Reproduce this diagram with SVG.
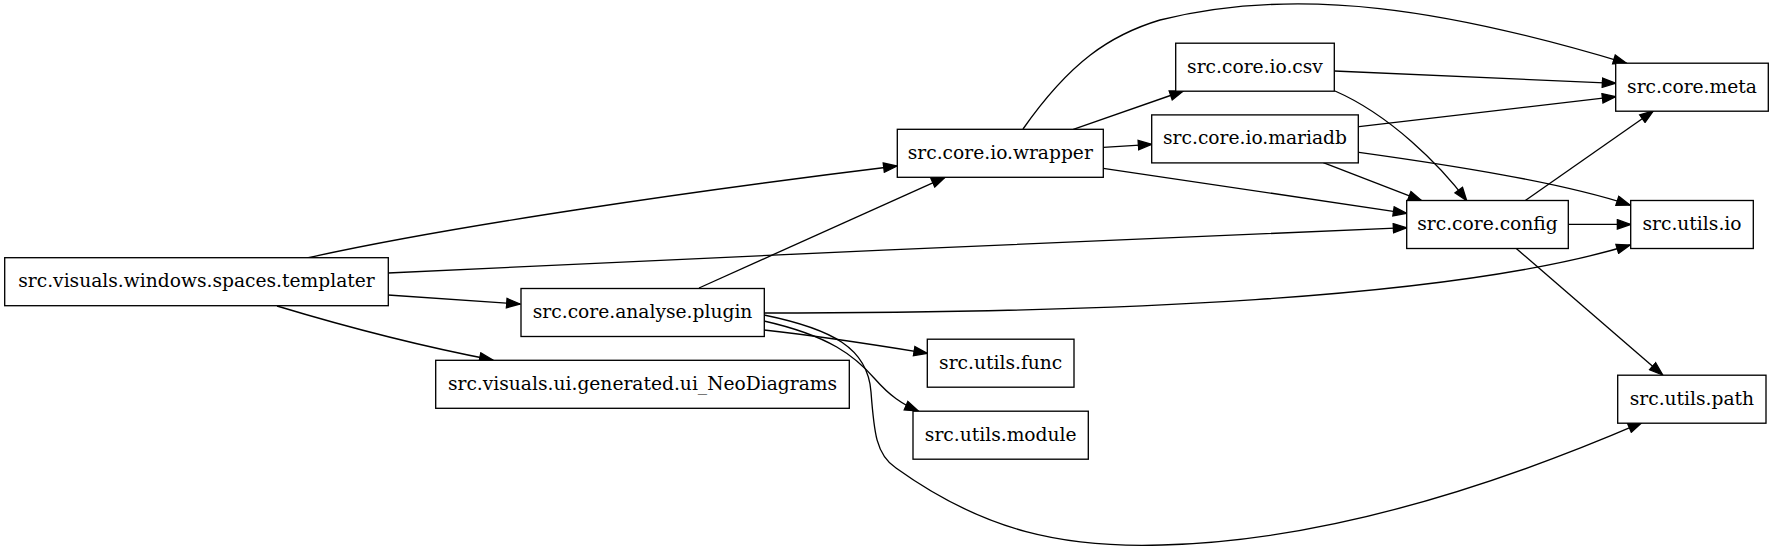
<svg xmlns="http://www.w3.org/2000/svg" width="1773" height="550" viewBox="0 0 1773 550">
<style>
.node rect{fill:#fff;stroke:#000;stroke-width:1.33}
.node text{font-family:"DejaVu Serif","Liberation Serif",serif;font-size:18.67px;fill:#000;text-anchor:middle}
.edges path{fill:none;stroke:#000;stroke-width:1.33;marker-end:url(#ah)}
</style>
<defs>
<marker id="ah" viewBox="-1 -1 15.33 11.33" refX="13.33" refY="4.67" markerWidth="15.33" markerHeight="11.33" markerUnits="userSpaceOnUse" orient="auto">
<path d="M0,0 L13.33,4.67 L0,9.33 z" fill="#000" stroke="#000" stroke-width="1.33" stroke-linejoin="miter"/>
</marker>
</defs>
<rect width="1773" height="550" fill="#fff"/>
<g class="edges" id="edges">
<path id="e-templater-wrapper" d="M307,258 C450,226 700,190 897,166"/>
<path id="e-templater-config" d="M388,273 C700,258 1100,240 1406.7,227.7"/>
<path id="e-templater-plugin" d="M388,295 L520,304"/>
<path id="e-templater-neo" d="M277,306 C340,325 420,346 493,360"/>
<path id="e-plugin-wrapper" d="M699,288 L945,177.3"/>
<path id="e-plugin-io" d="M764,313 C1100,313 1450,300 1630,245"/>
<path id="e-plugin-func" d="M764,330 C820,336 870,344 927.3,353.3"/>
<path id="e-plugin-module" d="M764,321 C830,336 855,356 875,379 C890,396 902,404 918.3,411"/>
<path id="e-plugin-path" d="M764,315 C832,329 868,348 871,392 C874,432 876,455 896,468 C985,532 1065,548 1162,545 C1320,541 1490,488 1641.7,422.7"/>
<path id="e-wrapper-csv" d="M1073.3,129.3 L1183.3,91"/>
<path id="e-wrapper-mariadb" d="M1103.3,147.3 L1151.7,144.3"/>
<path id="e-wrapper-config" d="M1103.3,168.3 L1406.7,213.3"/>
<path id="e-wrapper-meta" d="M1023,129 C1070,62 1110,35 1160,20 C1300,-15 1450,10 1626.7,63.3"/>
<path id="e-csv-meta" d="M1334.3,71 L1615.7,83.3"/>
<path id="e-csv-config" d="M1335,91 C1390,115 1440,165 1466.7,200.7"/>
<path id="e-mariadb-meta" d="M1359,126.7 L1615.7,96.7"/>
<path id="e-mariadb-config" d="M1323.3,162.7 L1421.7,200.7"/>
<path id="e-mariadb-io" d="M1359,152.3 C1450,165 1560,182 1630,205"/>
<path id="e-config-meta" d="M1525,200.7 L1653.3,111"/>
<path id="e-config-io" d="M1568.3,224.4 L1630.7,224.4"/>
<path id="e-config-path" d="M1516,248.3 L1662.7,375"/>
</g>
<g class="node" id="n-templater"><rect x="4.7" y="257.7" width="383.6" height="48"/><text x="196.5" y="287">src.visuals.windows.spaces.templater</text></g>
<g class="node" id="n-plugin"><rect x="521" y="288.5" width="243.3" height="48"/><text x="642.6" y="317.8">src.core.analyse.plugin</text></g>
<g class="node" id="n-neo"><rect x="435.7" y="360.3" width="413.6" height="48"/><text x="642.5" y="389.6">src.visuals.ui.generated.ui_NeoDiagrams</text></g>
<g class="node" id="n-wrapper"><rect x="897.3" y="129.3" width="206" height="48"/><text x="1000.3" y="158.6">src.core.io.wrapper</text></g>
<g class="node" id="n-func"><rect x="927.3" y="339.2" width="146.7" height="48"/><text x="1000.7" y="368.5">src.utils.func</text></g>
<g class="node" id="n-module"><rect x="913" y="411.2" width="175.3" height="48"/><text x="1000.7" y="440.5">src.utils.module</text></g>
<g class="node" id="n-csv"><rect x="1175.7" y="43.2" width="158.6" height="48"/><text x="1255" y="72.5">src.core.io.csv</text></g>
<g class="node" id="n-mariadb"><rect x="1151.7" y="114.9" width="206.6" height="48"/><text x="1255" y="144.2">src.core.io.mariadb</text></g>
<g class="node" id="n-config"><rect x="1406.7" y="200.5" width="161.6" height="48"/><text x="1487.5" y="229.8">src.core.config</text></g>
<g class="node" id="n-meta"><rect x="1615.7" y="63.2" width="152.6" height="48"/><text x="1692" y="92.5">src.core.meta</text></g>
<g class="node" id="n-io"><rect x="1630.7" y="200.5" width="122.6" height="48"/><text x="1692" y="229.8">src.utils.io</text></g>
<g class="node" id="n-path"><rect x="1617.7" y="375.2" width="148.3" height="48"/><text x="1691.9" y="404.5">src.utils.path</text></g>
</svg>
